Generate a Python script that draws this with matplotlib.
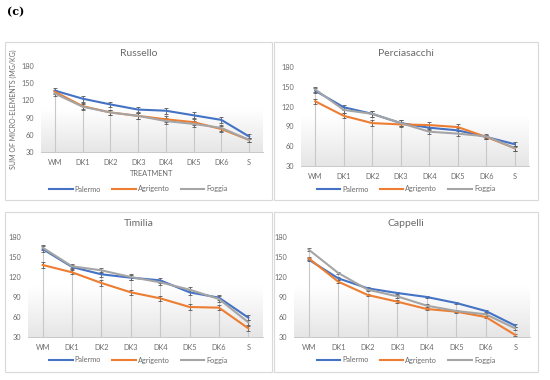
import numpy as np
import matplotlib as mpl
import matplotlib.pyplot as plt
from matplotlib.patches import Rectangle

plt.rcParams['font.family'] = ['Lato', 'DejaVu Sans']

treatments = ["WM", "DK1", "DK2", "DK3", "DK4", "DK5", "DK6", "S"]
series_names = ["Palermo", "Agrigento", "Foggia"]
colors = ["#4472C4", "#ED7D31", "#A5A5A5"]

russello_palermo = [137, 123, 113, 104, 102, 94, 86, 57]
russello_agrigento = [135, 110, 99, 93, 87, 82, 70, 51]
russello_foggia = [132, 109, 99, 93, 84, 79, 72, 51]
russello_err = [4, 5, 5, 5, 5, 5, 5, 4]

perciasacchi_palermo = [144, 119, 109, 95, 88, 84, 74, 63]
perciasacchi_agrigento = [128, 106, 95, 93, 92, 89, 74, 57]
perciasacchi_foggia = [146, 115, 109, 95, 82, 79, 75, 57]
perciasacchi_err = [4, 4, 4, 4, 4, 4, 3, 4]

timilia_palermo = [162, 135, 124, 119, 115, 97, 89, 59]
timilia_agrigento = [138, 127, 111, 97, 88, 75, 74, 43]
timilia_foggia = [164, 136, 130, 120, 112, 101, 87, 52]
timilia_err = [4, 3, 4, 4, 4, 4, 4, 4]

cappelli_palermo = [146, 118, 103, 96, 90, 81, 69, 47]
cappelli_agrigento = [148, 113, 93, 83, 72, 68, 60, 33]
cappelli_foggia = [161, 126, 101, 91, 77, 69, 64, 43]
cappelli_err = [2, 2, 2, 2, 2, 2, 2, 2]

panels = [
    ("Russello", [russello_palermo, russello_agrigento, russello_foggia], russello_err),
    ("Perciasacchi", [perciasacchi_palermo, perciasacchi_agrigento, perciasacchi_foggia], perciasacchi_err),
    ("Timilia", [timilia_palermo, timilia_agrigento, timilia_foggia], timilia_err),
    ("Cappelli", [cappelli_palermo, cappelli_agrigento, cappelli_foggia], cappelli_err),
]

W, H = 550, 380
txt = "#6b6b6b"

# pixel boxes: (border x0, y0, x1, y1), (plot x0, y0, x1, y1), title y, legend y
layout = [
    ((5, 42, 272, 200), (41, 66, 263, 152), 53, 189),
    ((274, 42, 538, 200), (301, 67, 529, 166), 53, 189),
    ((5, 212, 272, 372), (28, 237, 263, 337), 223, 360),
    ((274, 212, 538, 372), (294, 237, 530, 337), 223, 360),
]

fig = plt.figure(figsize=(W / 100, H / 100), dpi=100)
fig.text(7 / W, 1 - 12 / H, "(c)", fontsize=8, fontweight='bold', family='DejaVu Serif',
         va='center', ha='left')

grad = np.linspace(1.0, 0.0, 100).reshape(-1, 1)
cmap = mpl.colors.LinearSegmentedColormap.from_list("g", ["#e6e6e6", "#ffffff", "#ffffff"])

x = np.arange(len(treatments))

for (title, vals, err), (border, plot, ty, ly) in zip(panels, layout):
    bx0, by0, bx1, by1 = border
    fig.patches.append(Rectangle((bx0 / W, 1 - by1 / H), (bx1 - bx0) / W, (by1 - by0) / H,
                                 transform=fig.transFigure, fill=False, ec="#d9d9d9", lw=0.8))
    px0, py0, px1, py1 = plot
    ax = fig.add_axes([px0 / W, 1 - py1 / H, (px1 - px0) / W, (py1 - py0) / H])
    ax.imshow(grad, cmap=cmap, aspect='auto', extent=[-0.5, 7.5, 30, 180], zorder=0)
    ax.set_xlim(-0.5, 7.5)
    ax.set_ylim(30, 180)

    top = np.max(vals, axis=0)
    ax.vlines(x, 30, top, color="#c8c8c8", lw=0.8, zorder=1)

    for v, c, name in zip(vals, colors, series_names):
        ax.errorbar(x, v, yerr=err, color=c, lw=1.5, ecolor="#595959", elinewidth=0.6,
                    capsize=1.5, capthick=0.6, label=name, zorder=3)

    ax.set_xticks(x)
    ax.set_xticklabels(treatments)
    ax.set_yticks([30, 60, 90, 120, 150, 180])
    ax.tick_params(axis='both', length=0, labelsize=5.3, colors=txt, pad=5)
    for s in ["top", "right", "left"]:
        ax.spines[s].set_visible(False)
    ax.spines["bottom"].set_color("#bfbfbf")
    ax.spines["bottom"].set_linewidth(0.6)

    fig.text((bx0 + bx1) / 2 / W, 1 - ty / H, title, ha='center', va='center',
             fontsize=7.5, color=txt)

    handles = [mpl.lines.Line2D([], [], color=c, lw=1.5) for c in colors]
    fig.legend(handles, series_names, loc='center', bbox_to_anchor=((bx0 + bx1) / 2 / W, 1 - ly / H),
               ncol=3, frameon=False, fontsize=5.3, handlelength=3.2, handletextpad=0.3,
               columnspacing=1.5, labelcolor=txt)

    if title == "Russello":
        ax.set_xlabel("TREATMENT", fontsize=5.3, color=txt, labelpad=3)
        ax.set_ylabel("SUM OF MICRO-ELEMENTS (MG/KG)", fontsize=5, color=txt, labelpad=3)

plt.savefig("out.png", dpi=100)
